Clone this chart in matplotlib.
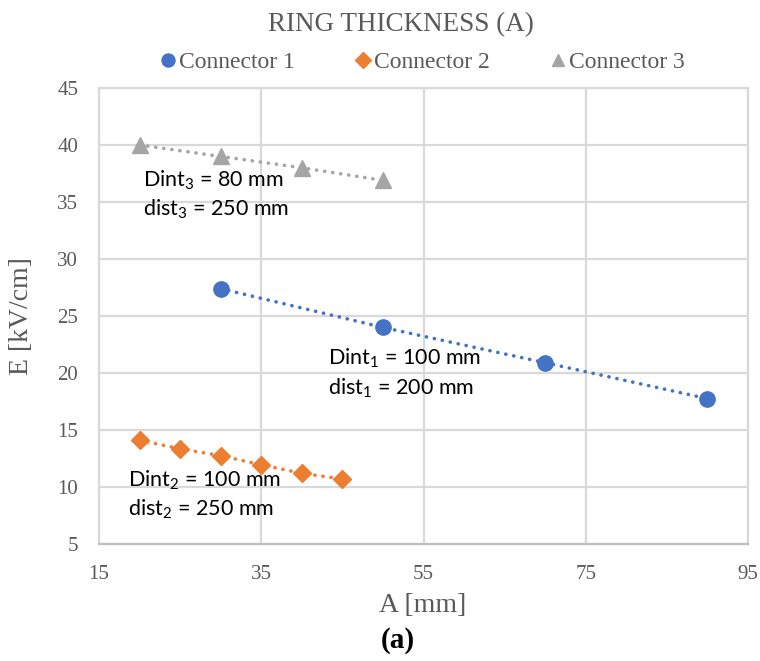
import matplotlib
matplotlib.use("Agg")
import matplotlib.pyplot as plt
from matplotlib.lines import Line2D

# data
a1 = [30, 50, 70, 90]
e1 = [27.4, 24.0, 20.9, 17.75]
a2 = [20, 25, 30, 35, 40, 45]
e2 = [14.1, 13.35, 12.75, 11.95, 11.2, 10.7]
a3 = [20, 30, 40, 50]
e3 = [40.0, 39.0, 38.0, 36.9]

names = ["Connector 1", "Connector 2", "Connector 3"]
notes = [
    (43.2, 20.7, 18.1, "Dint$_1$ = 100 mm", "dist$_1$ = 200 mm"),
    (18.6, 10.0, 7.5, "Dint$_2$ = 100 mm", "dist$_2$ = 250 mm"),
    (20.4, 36.3, 33.8, "Dint$_3$ = 80 mm", "dist$_3$ = 250 mm"),
]

plt.rcParams["mathtext.fontset"] = "custom"
plt.rcParams["mathtext.rm"] = "Lato"
plt.rcParams["mathtext.it"] = "Lato"
plt.rcParams["mathtext.default"] = "regular"

serif = "Liberation Serif"
grey_txt = "#595959"
grid_c = "#D9D9D9"
colors = ["#4472C4", "#ED7D31", "#A5A5A5"]
markers = ["o", "D", "^"]
sizes = [11, 9, 11]

fig = plt.figure(figsize=(7.6, 6.61), dpi=100)
ax = fig.add_axes([99 / 760, 117 / 661, 649 / 760, 456 / 661])

dots = (0, (0.05, 2.2))
for xs, ys, c, m, s in zip([a1, a2, a3], [e1, e2, e3], colors, markers, sizes):
    ax.plot(xs, ys, color=c, marker=m, ms=s, ls=dots, lw=2.6,
            dash_capstyle="round", zorder=3)

for x, y1, y2, l1, l2 in notes:
    ax.text(x, y1, l1, family="Lato", fontsize=15.5, color="black", va="baseline")
    ax.text(x, y2, l2, family="Lato", fontsize=15.5, color="black", va="baseline")

ax.set_xlim(15, 95)
ax.set_ylim(5, 45)
ax.set_xticks(range(15, 96, 20))
ax.set_yticks(range(5, 46, 5))
ax.grid(True, color=grid_c, lw=1.6)
ax.set_axisbelow(True)
for s in ax.spines.values():
    s.set_color(grid_c)
    s.set_linewidth(1.6)
ax.spines["bottom"].set_color("#BFBFBF")
ax.tick_params(length=0, labelsize=15, labelcolor=grey_txt, pad=15)
for lab in ax.get_xticklabels() + ax.get_yticklabels():
    lab.set_family(serif)

fig.text(22 / 760, 1 - 316 / 661, "E [kV/cm]", rotation=90, ha="center", va="center",
         family=serif, fontsize=20, color=grey_txt)
fig.text(423 / 760, 1 - 606 / 661, "A [mm]", ha="center", va="center",
         family=serif, fontsize=20, color=grey_txt)
fig.text(401 / 760, 1 - 25 / 661, "RING THICKNESS (A)", ha="center", va="center",
         family=serif, fontsize=19.5, color=grey_txt)
fig.text(398 / 760, 1 - 640 / 661, "(a)", ha="center", va="center",
         family=serif, fontsize=21, fontweight="bold", color="black")

handles = [Line2D([], [], ls="none", marker=m, color=c, ms=s * 0.85)
           for c, m, s in zip(colors, markers, sizes)]
fig.legend(handles, names, loc="center", bbox_to_anchor=(423 / 760, 1 - 62 / 661),
           ncol=3, frameon=False, handlelength=0.6, handletextpad=0.15,
           columnspacing=2.6, prop={"family": serif, "size": 17}, labelcolor=grey_txt)

fig.savefig("out.png", dpi=100)
